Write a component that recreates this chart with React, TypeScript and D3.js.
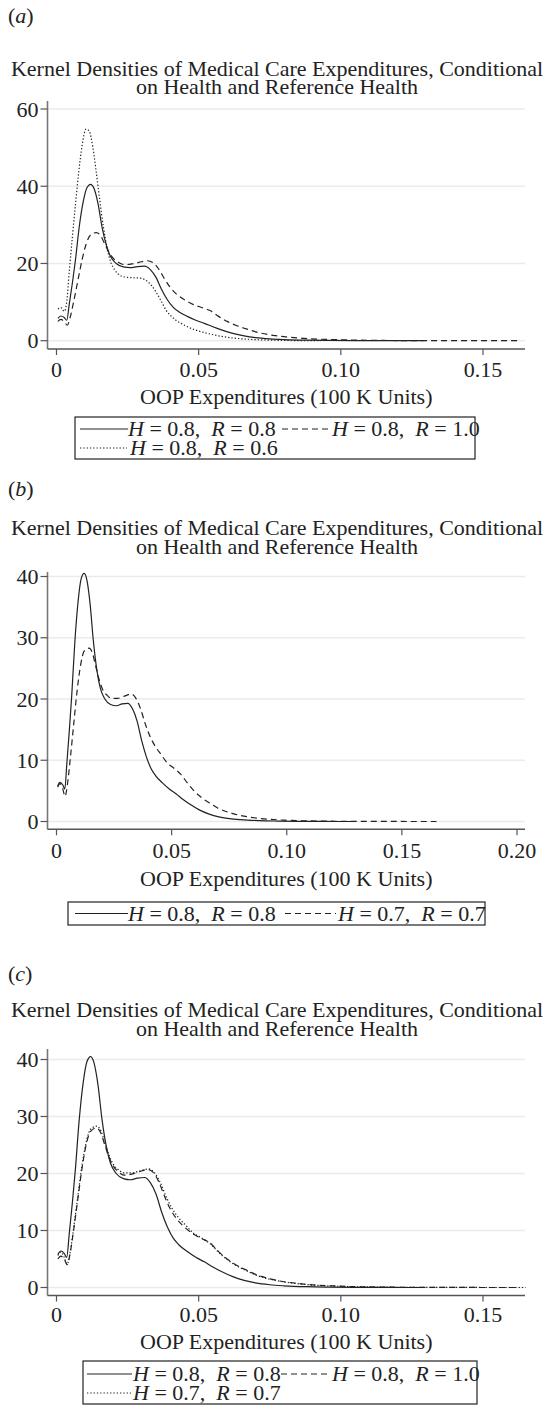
import React from 'react';
import * as d3 from 'd3';

type Pt = [number, number];

// kernel densities: [OOP expenditure (100K), density]
const densH08R08: Pt[] = [
  [0.0005, 5.8], [0.0015, 6.4], [0.0027, 6.0], [0.0036, 5.3], [0.0045, 9.5], [0.0056, 15], [0.0066, 20.5],
  [0.008, 29.5], [0.0094, 36], [0.0107, 39.6], [0.012, 40.5], [0.0132, 39.4], [0.0146, 35.5], [0.016, 29.5],
  [0.0175, 24.8], [0.019, 21.8], [0.021, 20.0], [0.0235, 19.1], [0.026, 18.9], [0.0285, 19.2], [0.031, 19.3],
  [0.033, 18.4], [0.035, 16.4], [0.037, 13.2], [0.039, 10.6], [0.041, 8.7], [0.043, 7.5], [0.046, 6.3],
  [0.049, 5.3], [0.052, 4.5], [0.055, 3.6], [0.058, 2.8], [0.062, 1.9], [0.066, 1.25], [0.07, 0.8],
  [0.075, 0.48], [0.08, 0.3], [0.088, 0.14], [0.096, 0.07], [0.105, 0.03], [0.115, 0.01], [0.129, 0],
];

const densH08R10: Pt[] = [
  [0.0005, 5.0], [0.0015, 5.5], [0.0028, 4.9], [0.0038, 4.0], [0.0048, 6.0], [0.006, 10], [0.0075, 15.5],
  [0.009, 21], [0.0105, 25.2], [0.012, 27.4], [0.014, 28.0], [0.0155, 27.2], [0.017, 25.0], [0.0185, 22.8],
  [0.02, 21.3], [0.022, 20.2], [0.024, 19.7], [0.0265, 19.9], [0.029, 20.3], [0.032, 20.7], [0.034, 20.2],
  [0.036, 18.5], [0.038, 16.0], [0.04, 13.8], [0.042, 12.2], [0.045, 10.6], [0.048, 9.4], [0.051, 8.6],
  [0.054, 7.8], [0.057, 6.3], [0.06, 5.0], [0.063, 4.0], [0.067, 3.0], [0.07, 2.3], [0.077, 1.3],
  [0.087, 0.6], [0.099, 0.25], [0.11, 0.1], [0.125, 0.03], [0.14, 0.01], [0.163, 0],
];

const densH08R06: Pt[] = [
  [0.0005, 8.2], [0.0015, 8.6], [0.0027, 7.6], [0.0035, 9.5], [0.0045, 18], [0.0056, 27], [0.0067, 35.5],
  [0.0078, 43.5], [0.009, 50.5], [0.0104, 54.8], [0.0115, 54.3], [0.0128, 50], [0.014, 43.5], [0.0152, 36.5],
  [0.0165, 29.5], [0.0178, 24], [0.019, 20.5], [0.0205, 18.3], [0.022, 17.1], [0.024, 16.5], [0.027, 16.3],
  [0.0295, 16.2], [0.0315, 15.6], [0.0335, 14.2], [0.035, 12.6], [0.037, 10.0], [0.0386, 7.8], [0.04, 6.6],
  [0.042, 5.3], [0.0445, 4.2], [0.047, 3.3], [0.05, 2.5], [0.053, 1.9], [0.057, 1.25], [0.062, 0.7],
  [0.068, 0.35], [0.075, 0.15], [0.083, 0.05], [0.093, 0],
];

const densH07R07: Pt[] = [
  [0.0005, 5.6], [0.0015, 6.2], [0.0028, 5.2], [0.0037, 4.1], [0.0048, 6.2], [0.006, 10.3], [0.0075, 16],
  [0.009, 21.5], [0.0105, 25.6], [0.012, 27.8], [0.0142, 28.3], [0.0157, 27.4], [0.017, 25.4], [0.0185, 23.2],
  [0.02, 21.6], [0.022, 20.6], [0.024, 20.1], [0.0265, 20.1], [0.029, 20.4], [0.0325, 20.8], [0.0345, 20.1],
  [0.0365, 18.4], [0.0385, 16.0], [0.0405, 14.0], [0.043, 12.2], [0.0455, 10.9], [0.048, 9.6], [0.051, 8.7],
  [0.054, 7.7], [0.057, 6.2], [0.06, 4.9], [0.063, 3.9], [0.067, 2.9], [0.07, 2.2], [0.077, 1.25],
  [0.087, 0.55], [0.099, 0.22], [0.11, 0.09], [0.125, 0.03], [0.14, 0.01], [0.165, 0],
];

const xTicksAC = [0, 0.05, 0.1, 0.15];
const xTicksB = [0, 0.05, 0.1, 0.15, 0.2];
const yTicksA = [0, 20, 40, 60];
const yTicksBC = [0, 10, 20, 30, 40];

const titleLines = ['Kernel Densities of Medical Care Expenditures, Conditional', 'on Health and Reference Health'];
const xTitle = 'OOP Expenditures (100 K Units)';

const FONT = '"Liberation Serif", "Times New Roman", Times, serif';
const INK = '#222';
const SOLID = '';
const DASH = '6,4';
const DOT = '1.3,2';

type LegendItem = { h: string; r: string; dash: string; row: number; sx0: number; sx1: number; tx: number };
type PanelCfg = {
  label: string; labelY: number; t1: number; t2: number;
  xTicks: number[]; yTicks: number[]; xLast: number; yTop: number; y0: number;
  axisTop: number; axisY: number; tickY: number; xTitleY: number;
  series: { data: Pt[]; dash: string }[];
  box: [number, number, number, number]; rows: number[]; legend: LegendItem[];
};

const panels: PanelCfg[] = [
  {
    label: 'a', labelY: 23, t1: 76, t2: 94,
    xTicks: xTicksAC, yTicks: yTicksA, xLast: 483, yTop: 109, y0: 340.7,
    axisTop: 101, axisY: 349, tickY: 377, xTitleY: 404,
    series: [{ data: densH08R06, dash: DOT }, { data: densH08R10, dash: DASH }, { data: densH08R08, dash: SOLID }],
    box: [75, 417, 475, 459], rows: [436, 455],
    legend: [
      { h: '0.8', r: '0.8', dash: SOLID, row: 0, sx0: 80, sx1: 128, tx: 128 },
      { h: '0.8', r: '1.0', dash: DASH, row: 0, sx0: 282, sx1: 332, tx: 332 },
      { h: '0.8', r: '0.6', dash: DOT, row: 1, sx0: 80, sx1: 127, tx: 130 },
    ],
  },
  {
    label: 'b', labelY: 496, t1: 535, t2: 554,
    xTicks: xTicksB, yTicks: yTicksBC, xLast: 517, yTop: 576.5, y0: 821.5,
    axisTop: 572, axisY: 829.3, tickY: 858, xTitleY: 886,
    series: [{ data: densH07R07, dash: DASH }, { data: densH08R08, dash: SOLID }],
    box: [68, 902, 485, 925], rows: [920.5],
    legend: [
      { h: '0.8', r: '0.8', dash: SOLID, row: 0, sx0: 75, sx1: 128, tx: 128 },
      { h: '0.7', r: '0.7', dash: DASH, row: 0, sx0: 285, sx1: 336, tx: 338 },
    ],
  },
  {
    label: 'c', labelY: 981, t1: 1017, t2: 1036,
    xTicks: xTicksAC, yTicks: yTicksBC, xLast: 483, yTop: 1059.5, y0: 1287.5,
    axisTop: 1049, axisY: 1295.5, tickY: 1322, xTitleY: 1349,
    series: [{ data: densH07R07, dash: DOT }, { data: densH08R10, dash: DASH }, { data: densH08R08, dash: SOLID }],
    box: [83, 1361, 477, 1404], rows: [1381, 1400],
    legend: [
      { h: '0.8', r: '0.8', dash: SOLID, row: 0, sx0: 87, sx1: 132, tx: 133 },
      { h: '0.8', r: '1.0', dash: DASH, row: 0, sx0: 281, sx1: 331, tx: 332 },
      { h: '0.7', r: '0.7', dash: DOT, row: 1, sx0: 87, sx1: 131, tx: 133 },
    ],
  },
];

const X0 = 56.5;
const AXIS_L = 47.5;
const AXIS_R = 525;

const fmtX = (v: number) => (v === 0 ? '0' : v.toFixed(2));

function Panel({ p }: { p: PanelCfg }) {
  const x = d3.scaleLinear().domain([0, p.xTicks[p.xTicks.length - 1]]).range([X0, p.xLast]);
  const y = d3.scaleLinear().domain([0, p.yTicks[p.yTicks.length - 1]]).range([p.y0, p.yTop]);
  const line = d3.line<Pt>().x(d => x(d[0])).y(d => y(d[1])).curve(d3.curveMonotoneX);

  return (
    <g>
      <text x={8} y={p.labelY}>(<tspan fontStyle="italic">{p.label}</tspan>)</text>
      <text x={277} y={p.t1} textAnchor="middle">{titleLines[0]}</text>
      <text x={277} y={p.t2} textAnchor="middle">{titleLines[1]}</text>

      {/* grid */}
      {p.yTicks.map(t => (
        <line key={'g' + t} x1={AXIS_L + 1} x2={AXIS_R} y1={y(t)} y2={y(t)} stroke="#ebebeb" strokeWidth={1.5} />
      ))}

      {/* curves */}
      {p.series.map((s, i) => (
        <path key={i} d={line(s.data) || ''} fill="none" stroke={INK} strokeWidth={1.2}
          strokeDasharray={s.dash || undefined} />
      ))}

      {/* y axis */}
      <line x1={AXIS_L} x2={AXIS_L} y1={p.axisTop} y2={p.axisY} stroke="#777" strokeWidth={1.6} />
      {p.yTicks.map(t => (
        <g key={'y' + t}>
          <line x1={AXIS_L - 7} x2={AXIS_L} y1={y(t)} y2={y(t)} stroke="#555" strokeWidth={1.2} />
          <text x={38.5} y={y(t) + 7.5} textAnchor="end">{t}</text>
        </g>
      ))}

      {/* x axis */}
      <line x1={AXIS_L} x2={AXIS_R} y1={p.axisY} y2={p.axisY} stroke="#555" strokeWidth={1.4} />
      {p.xTicks.map(t => (
        <g key={'x' + t}>
          <line x1={x(t)} x2={x(t)} y1={p.axisY} y2={p.axisY + 6} stroke="#555" strokeWidth={1.2} />
          <text x={x(t)} y={p.tickY} textAnchor="middle">{fmtX(t)}</text>
        </g>
      ))}
      <text x={(AXIS_L + AXIS_R) / 2} y={p.xTitleY} textAnchor="middle">{xTitle}</text>

      {/* legend */}
      <rect x={p.box[0]} y={p.box[1]} width={p.box[2] - p.box[0]} height={p.box[3] - p.box[1]}
        fill="none" stroke={INK} strokeWidth={1.2} />
      {p.legend.map((l, i) => {
        const by = p.rows[l.row];
        return (
          <g key={'l' + i}>
            <line x1={l.sx0} x2={l.sx1} y1={by - 7} y2={by - 7} stroke={INK} strokeWidth={1.1}
              strokeDasharray={l.dash || undefined} />
            <text x={l.tx} y={by} style={{ whiteSpace: 'pre' }}>
              <tspan fontStyle="italic">H</tspan>{` = ${l.h},  `}<tspan fontStyle="italic">R</tspan>{` = ${l.r}`}
            </text>
          </g>
        );
      })}
    </g>
  );
}

export default function App() {
  return (
    <svg width={550} height={1405} viewBox="0 0 550 1405"
      style={{ position: 'absolute', left: 0, top: 0, background: '#fff' }}
      fontFamily={FONT} fontSize={22} fill={INK}>
      <rect width={550} height={1405} fill="#fff" />
      {panels.map(p => <Panel key={p.label} p={p} />)}
    </svg>
  );
}
